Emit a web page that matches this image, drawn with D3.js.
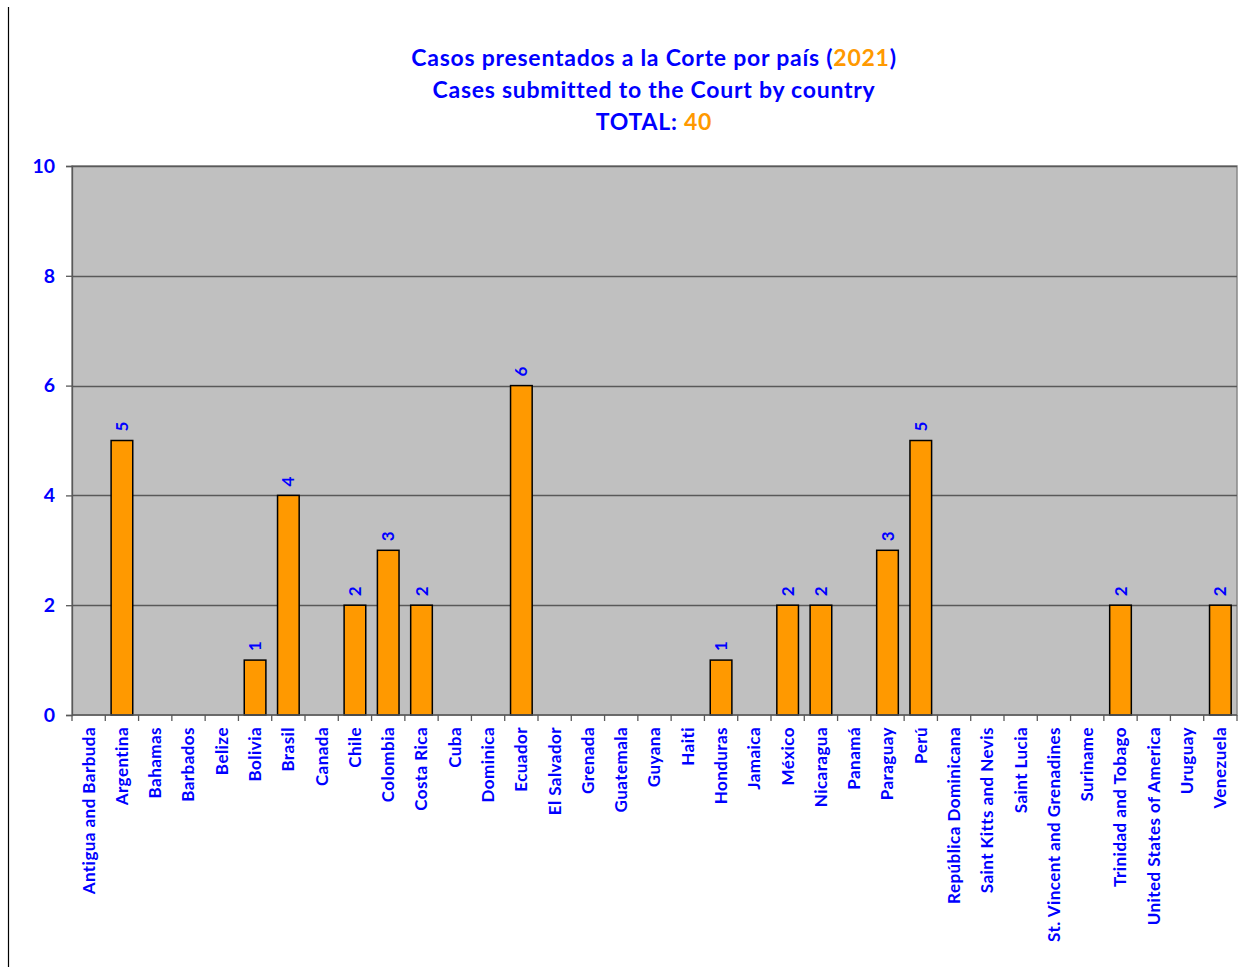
<!DOCTYPE html>
<html>
<head>
<meta charset="utf-8">
<script src="https://cdn.jsdelivr.net/npm/d3@7"></script>
<style>
  body { margin: 0; background: #fff; }
  text { font-family: Lato, "Open Sans", sans-serif; }
</style>
</head>
<body>
<div id="chart"></div>
<script>
// data
var countries = ["Antigua and Barbuda","Argentina","Bahamas","Barbados","Belize","Bolivia","Brasil","Canada","Chile","Colombia","Costa Rica","Cuba","Dominica","Ecuador","El Salvador","Grenada","Guatemala","Guyana","Haiti","Honduras","Jamaica","México","Nicaragua","Panamá","Paraguay","Perú","República Dominicana","Saint Kitts and Nevis","Saint Lucia","St. Vincent and Grenadines","Suriname","Trinidad and Tobago","United States of America","Uruguay","Venezuela"];
var cases = [0,5,0,0,0,1,4,0,2,3,2,0,0,6,0,0,0,0,0,1,0,2,2,0,3,5,0,0,0,0,0,2,0,0,2];
var yTicks = [0,2,4,6,8,10];
var year = "2021";
var total = 40;

var W = 1250, H = 967;
var margin = {top: 166, left: 72, right: 13, bottom: 252};
var width = W - margin.left - margin.right;
var height = H - margin.top - margin.bottom;

var svg = d3.select("#chart").append("svg")
    .attr("width", W).attr("height", H);

// left border line
svg.append("line").attr("x1", 8.5).attr("x2", 8.5).attr("y1", 7).attr("y2", H)
    .attr("stroke", "#000").attr("stroke-width", 1.2);

// titles
var blue = "#0000ff", orange = "#ff9900";
function titleLine(yPos) {
    return svg.append("text").attr("x", 654).attr("y", yPos).attr("text-anchor", "middle")
        .style("font-size", "23px").style("font-weight", "bold").style("letter-spacing", "0.75px")
        .attr("fill", blue);
}
var t1 = titleLine(66);
t1.append("tspan").text("Casos presentados a la Corte por país (");
t1.append("tspan").attr("fill", orange).text(year);
t1.append("tspan").text(")");
titleLine(98).text("Cases submitted to the Court by country");
var t3 = titleLine(130);
t3.append("tspan").text("TOTAL: ");
t3.append("tspan").attr("fill", orange).text(total);

var g = svg.append("g").attr("transform", "translate(" + margin.left + "," + margin.top + ")");

var x = d3.scaleBand().domain(countries).range([0, width]).paddingInner(0.35).paddingOuter(0.175);
var y = d3.scaleLinear().domain([0, 10]).range([height, 0]);

// plot background
g.append("rect").attr("width", width).attr("height", height).attr("fill", "#c0c0c0")
    .attr("stroke", "#888").attr("stroke-width", 1.5);

// gridlines
g.selectAll(".grid").data(yTicks.filter(function(d){ return d > 0; })).enter().append("line")
    .attr("x1", 0).attr("x2", width)
    .attr("y1", function(d){ return Math.round(y(d)) + 0.5; })
    .attr("y2", function(d){ return Math.round(y(d)) + 0.5; })
    .attr("stroke", "#595959").attr("stroke-width", 1.3);

// bars
g.selectAll(".bar").data(countries).enter().append("rect")
    .filter(function(d, i){ return cases[i] > 0; })
    .attr("x", function(d){ return x(d); })
    .attr("width", x.bandwidth())
    .attr("y", function(d){ return y(cases[countries.indexOf(d)]); })
    .attr("height", function(d){ return height - y(cases[countries.indexOf(d)]); })
    .attr("fill", orange).attr("stroke", "#000").attr("stroke-width", 1.5);

// value labels
g.selectAll(".val").data(countries).enter().append("text")
    .filter(function(d, i){ return cases[i] > 0; })
    .attr("transform", function(d){
        var cx = x(d) + x.bandwidth() / 2, cy = y(cases[countries.indexOf(d)]) - 9;
        return "translate(" + cx + "," + cy + ") rotate(-90)";
    })
    .attr("dy", "0.36em").attr("text-anchor", "start")
    .style("font-size", "17px").style("font-weight", "bold").attr("fill", blue)
    .text(function(d){ return cases[countries.indexOf(d)]; });

// y axis
var yAxis = d3.axisLeft(y).tickValues(yTicks).tickSize(6).tickPadding(11).tickFormat(d3.format("d"));
var ya = g.append("g").call(yAxis);
ya.select(".domain").attr("stroke", "#595959").attr("stroke-width", 1.3);
ya.selectAll(".tick line").attr("stroke", "#595959").attr("stroke-width", 1.3);
ya.selectAll(".tick text").attr("fill", blue).style("font-size", "19.5px").style("font-weight", "bold")
    .style("font-family", "Lato, sans-serif");

// x axis: ticks at band boundaries
var boundaries = d3.range(countries.length + 1).map(function(i){ return i * width / countries.length; });
var xa = g.append("g").attr("transform", "translate(0," + height + ")");
xa.append("line").attr("x1", 0).attr("x2", width).attr("stroke", "#595959").attr("stroke-width", 1.3);
xa.selectAll(".xt").data(boundaries).enter().append("line")
    .attr("x1", function(d){ return d; }).attr("x2", function(d){ return d; })
    .attr("y1", 0).attr("y2", 6).attr("stroke", "#595959").attr("stroke-width", 1.3);
xa.selectAll(".xl").data(countries).enter().append("text")
    .attr("transform", function(d){
        return "translate(" + (x(d) + x.bandwidth() / 2) + ",12) rotate(-90)";
    })
    .attr("dy", "0.35em").attr("text-anchor", "end")
    .style("font-size", "17px").style("font-weight", "bold").style("letter-spacing", "0.45px")
    .attr("fill", blue)
    .text(function(d){ return d; });
</script>
</body>
</html>
